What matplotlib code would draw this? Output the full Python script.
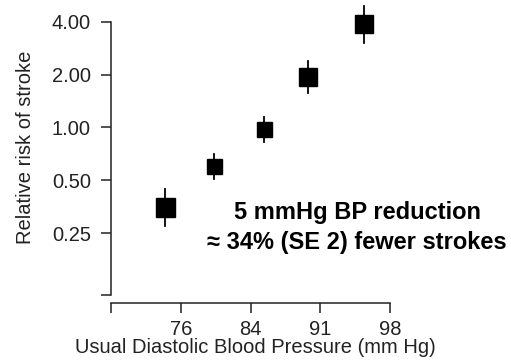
import matplotlib
matplotlib.use('Agg')
import matplotlib.pyplot as plt
from matplotlib.ticker import FixedLocator, FixedFormatter, NullLocator

plt.rcParams['font.family'] = ['Liberation Sans', 'DejaVu Sans']

# usual DBP (plotted position) and relative risk of stroke with 95% CI
dbp = [75.45, 80.34, 85.36, 89.74, 95.42]
rr = [0.351, 0.600, 0.977, 1.943, 3.90]
rr_lo = [0.274, 0.508, 0.829, 1.577, 3.02]
rr_hi = [0.447, 0.705, 1.151, 2.381, 4.92]
box_px = [19, 15, 15, 18, 18]

x_ticks = [70, 77, 84, 91, 98]
x_labels = ['', '76', '84', '91', '98']
y_ticks = [0.111, 0.25, 0.5, 1.0, 2.0, 4.0]
y_labels = ['', '0.25', '0.50', '1.00', '2.00', '4.00']

W, H = 511, 364
fig = plt.figure(figsize=(W / 100, H / 100), dpi=100)
ax = fig.add_axes([111 / W, 1 - 295 / H, (400 - 111) / W, 295 / H])

for x, y, lo, hi, s in zip(dbp, rr, rr_lo, rr_hi, box_px):
    ax.plot([x, x], [lo, hi], color='black', lw=1.3, zorder=2)
    ax.plot(x, y, 's', color='black', ms=s * 0.72, zorder=3)

ax.set_yscale('log', base=2)
ax.set_xlim(70, 99)
ax.set_ylim(0.111, 5.32)

ax.xaxis.set_major_locator(FixedLocator(x_ticks))
ax.xaxis.set_major_formatter(FixedFormatter(x_labels))
ax.yaxis.set_major_locator(FixedLocator(y_ticks))
ax.yaxis.set_major_formatter(FixedFormatter(y_labels))
ax.yaxis.set_minor_locator(NullLocator())

for side in ['top', 'right']:
    ax.spines[side].set_visible(False)
ax.spines['bottom'].set_position(('outward', 6))
ax.spines['bottom'].set_bounds(70, 98)
ax.spines['left'].set_bounds(0.111, 4.0)
for side in ['bottom', 'left']:
    ax.spines[side].set_linewidth(1.1)
    ax.spines[side].set_color('#222222')

ax.tick_params(length=7.5, width=1.1, color='#222222', labelsize=14.5,
               labelcolor='#222222', pad=7)
ax.tick_params(axis='x', pad=4.5)

ax.set_xlabel('Usual Diastolic Blood Pressure (mm Hg)', fontsize=14.5, color='#222222', labelpad=-1)
ax.set_ylabel('Relative risk of stroke', fontsize=14.5, color='#222222', labelpad=12)

fig.text(357 / W, 1 - 219.3 / H, '5 mmHg BP reduction', ha='center', va='baseline',
         fontsize=17, fontweight='bold')
fig.text(357 / W, 1 - 249.3 / H, '≈ 34% (SE 2) fewer strokes', ha='center', va='baseline',
         fontsize=17, fontweight='bold')

fig.savefig('out.png', dpi=100)
